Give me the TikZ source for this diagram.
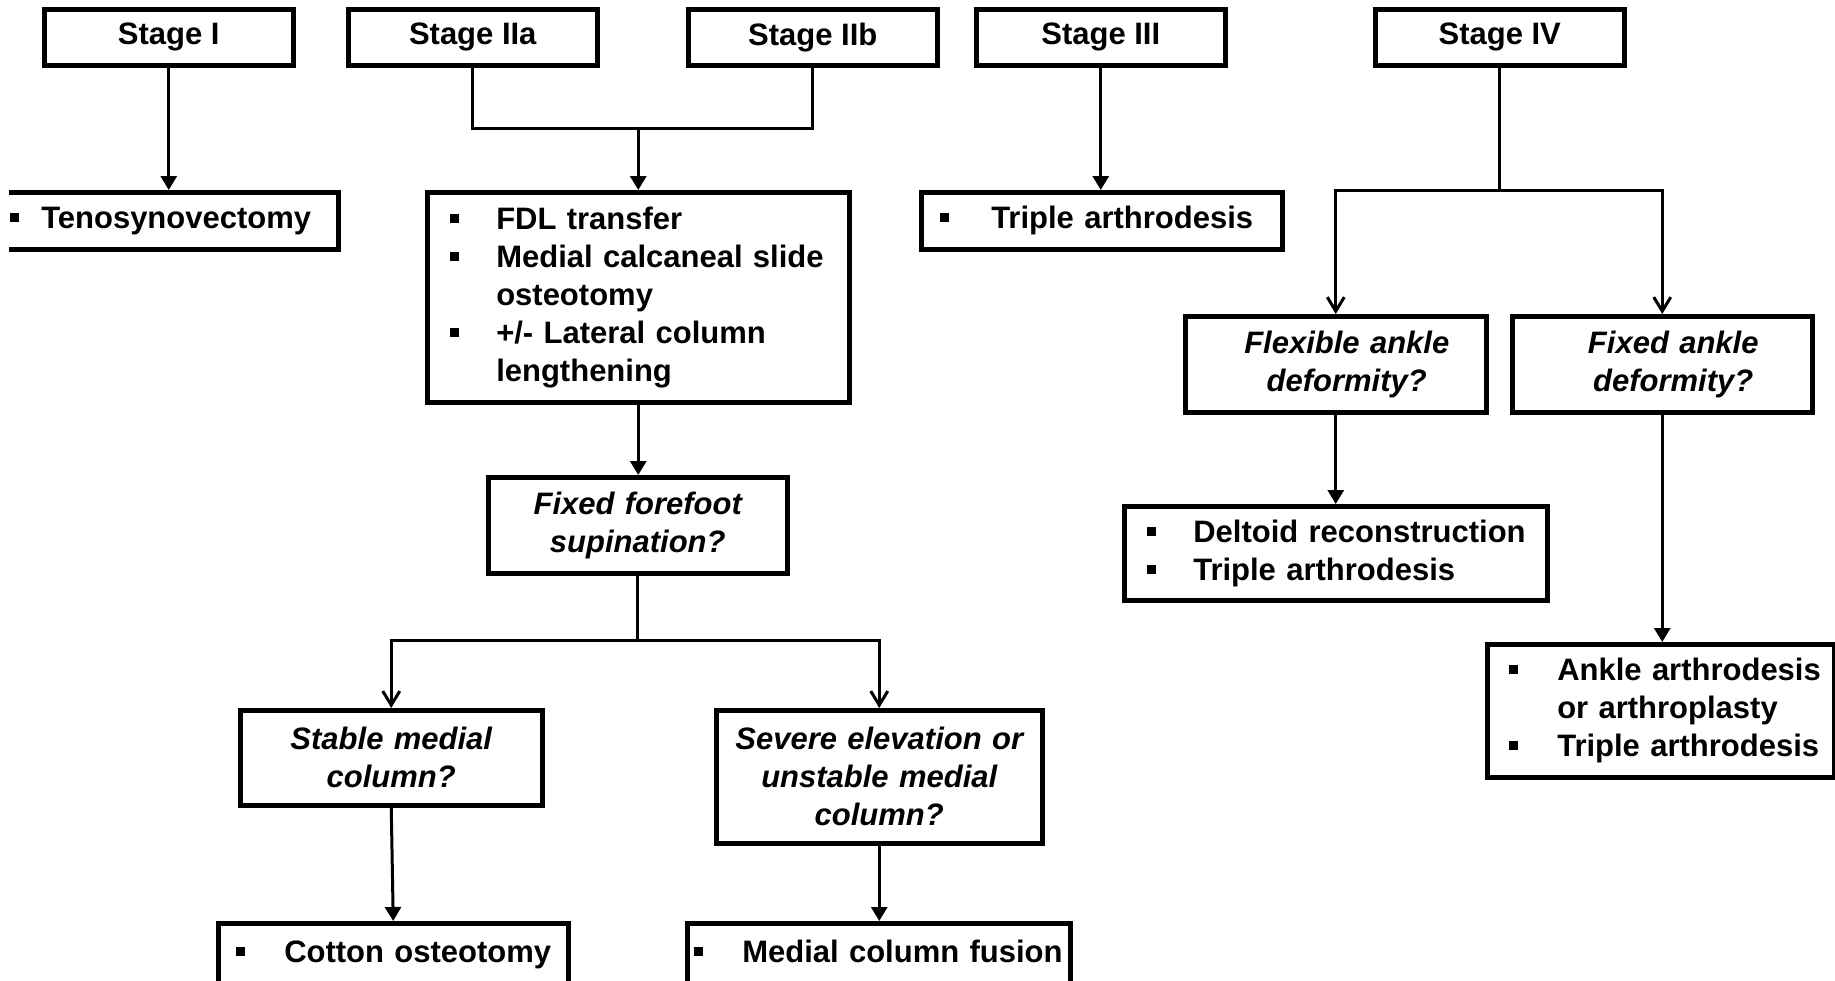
\documentclass[tikz,border=0pt]{standalone}
\usepackage{fontspec}
\setmainfont{Liberation Sans}
\usetikzlibrary{arrows.meta}
\newcommand\bsq{\rule[6.5pt]{9pt}{9pt}}
\newcommand\bli[3]{\hspace*{#1}\makebox[#2][l]{\bsq}\mbox{#3}}
\newcommand\cont[2]{\hspace*{#1}\mbox{#2}}
\begin{document}
\begin{tikzpicture}[x=1pt,y=-1pt,
  every node/.style={font=\fontsize{31}{38}\selectfont\bfseries},
  box/.style={draw, line width=4.5pt, anchor=north west, inner ysep=0pt},
  stage/.style={box, minimum width=249, minimum height=56, inner xsep=2pt},
  lbox/.style={box, align=left, inner xsep=4pt},
  qbox/.style={box, align=center, inner xsep=5pt, font=\fontsize{31}{38}\selectfont\bfseries\itshape},
  conn/.style={line width=3pt, -{Triangle[width=16pt,length=14pt]}},
  vconn/.style={line width=3pt, -{Straight Barb[width=17pt,length=14pt,line width=3pt]}},
  plain/.style={line width=3pt},
]
\useasboundingbox (0,0) rectangle (1835,980);

% stage headers
\node[stage] (s1)  at (42,7)   {Stage I};
\node[stage] (s2a) at (346,7)  {Stage IIa};
\node[stage] (s2b) at (686,7)  {Stage IIb};
\node[stage] (s3)  at (974,7)  {Stage III};
\node[stage] (s4)  at (1373,7) {Stage IV};

% stage I
\begin{scope}
\clip (9,150) rectangle (400,270);
\node[lbox, text width=338pt, minimum height=57] (teno) at (-10,190)
  {\bli{13.5pt}{31.5pt}{Tenosynovectomy}};
\end{scope}

% stage II
\node[lbox, text width=414pt, minimum height=210] (fdl) at (425,190)
  {\bli{18.5pt}{46.5pt}{FDL transfer}\\
   \bli{18.5pt}{46.5pt}{Medial calcaneal slide}\\
   \cont{65pt}{osteotomy}\\
   \bli{18.5pt}{46.5pt}{+/- Lateral column}\\
   \cont{65pt}{lengthening}};
\node[qbox, text width=289pt, minimum height=96] (ff) at (486,475)
  {Fixed forefoot\\ supination?};
\node[qbox, text width=292pt, minimum height=95] (stab) at (238,708)
  {Stable medial\\ column?};
\node[qbox, text width=316pt, minimum height=133] (sev) at (714,708)
  {Severe elevation or\\ unstable medial\\ column?};
\node[lbox, text width=342pt, minimum height=69, text height=23pt, text depth=14pt] (cot) at (216,921)
  {\bli{13.5pt}{48.5pt}{Cotton osteotomy}};
\node[lbox, text width=375pt, minimum height=69, text height=23pt, text depth=14pt] (mcf) at (685,921)
  {\bli{2.5pt}{48.5pt}{Medial column fusion}};

% stage III
\node[lbox, text width=353pt, minimum height=57] (tri) at (919,190)
  {\bli{14.5pt}{51.5pt}{Triple arthrodesis}};

% stage IV
\node[qbox, text width=291pt, minimum height=96] (flex) at (1183,314)
  {\hspace*{22pt}Flexible ankle\\ \hspace*{22pt}deformity?};
\node[qbox, text width=290pt, minimum height=96] (fixa) at (1510,314)
  {\hspace*{22pt}Fixed ankle\\ \hspace*{22pt}deformity?};
\node[lbox, text width=415pt, minimum height=94] (delt) at (1122,504)
  {\bli{18.5pt}{46.5pt}{Deltoid reconstruction}\\
   \bli{18.5pt}{46.5pt}{Triple arthrodesis}};
\node[lbox, text width=339pt, minimum height=133] (ank) at (1485,642)
  {\bli{17.5pt}{48.5pt}{Ankle arthrodesis}\\
   \cont{66pt}{or arthroplasty}\\
   \bli{17.5pt}{48.5pt}{Triple arthrodesis}};

% junction points
\path (fdl.north) ++(0,-62) coordinate (j2);
\path (ff.south) ++(0,65) coordinate (j3);
\path (s4.south) ++(0,123) coordinate (j4);

% connectors
\draw[conn] (s1.south) -- (s1.south |- teno.north);
\draw[plain] (s2a.south) |- (j2) -| (s2b.south);
\draw[conn] (j2) -- (fdl.north);
\draw[conn] (fdl.south) -- (fdl.south |- ff.north);
\draw[plain] (ff.south) -- (j3);
\draw[vconn] (j3) -| (stab.north);
\draw[vconn] (j3) -| (sev.north);
\draw[conn] (stab.south) -- (cot.north);
\draw[conn] (sev.south) -- (sev.south |- mcf.north);
\draw[conn] (s3.south) -- (s3.south |- tri.north);
\draw[plain] (s4.south) -- (j4);
\draw[vconn] (j4) -| (flex.north);
\draw[vconn] (j4) -| (fixa.north);
\draw[conn] (flex.south) -- (flex.south |- delt.north);
\draw[conn] (fixa.south) -- (fixa.south |- ank.north);
\end{tikzpicture}
\end{document}
